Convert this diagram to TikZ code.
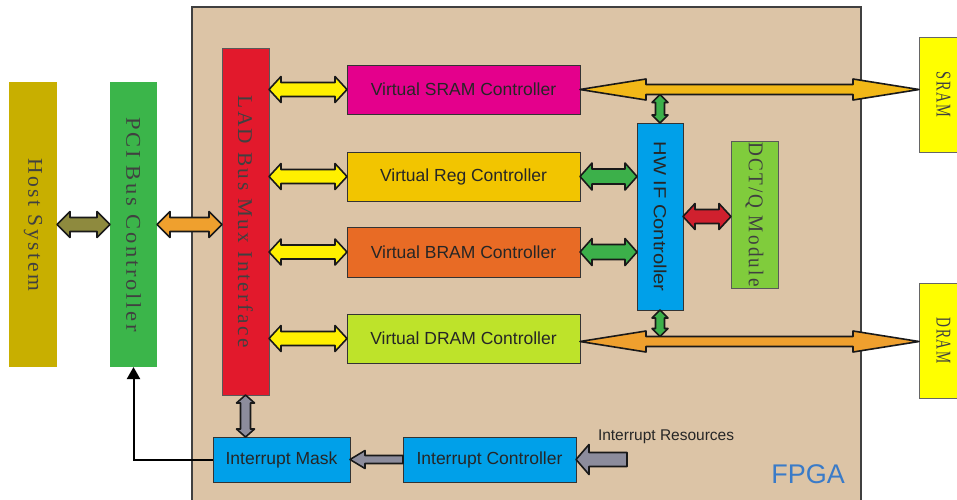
\documentclass[tikz,border=0pt]{standalone}
\usepackage{fontspec}
\usepackage{graphicx}
\usetikzlibrary{calc,arrows.meta}
\newfontfamily\sansf{Liberation Sans}
\newfontfamily\serifls[LetterSpace=12]{Liberation Serif}
\definecolor{fpgac}{HTML}{DCC4A6}
\definecolor{hostc}{HTML}{C8AF00}
\definecolor{pcic}{HTML}{3BB54A}
\definecolor{ladc}{HTML}{E2192C}
\definecolor{sramcc}{HTML}{E4008C}
\definecolor{regcc}{HTML}{F2C500}
\definecolor{bramcc}{HTML}{E86B25}
\definecolor{dramcc}{HTML}{BEE32A}
\definecolor{bluec}{HTML}{00A0E9}
\definecolor{dctc}{HTML}{80CC3C}
\definecolor{memc}{HTML}{FFFF00}
\definecolor{olivec}{HTML}{8E8A3E}
\definecolor{orangec}{HTML}{EFA02E}
\definecolor{yellowc}{HTML}{FFF000}
\definecolor{goldc}{HTML}{F2B817}
\definecolor{greenc}{HTML}{3CB04A}
\definecolor{redc}{HTML}{D0202E}
\definecolor{grayc}{HTML}{8C8C9C}
\definecolor{fpgat}{HTML}{3A7BC8}
\tikzset{
  blk/.style={inner sep=0pt, outer sep=0pt, anchor=center},
  ctl/.style={blk, draw=black!80, line width=0.9pt, font=\sansf\fontsize{17.5}{20}\selectfont, text=black!85},
  vlab/.style={blk, font=\serifls\fontsize{21}{24}\selectfont, text=black!75},
  barrow/.style={draw=black!90, line width=1.6pt, line join=round},
}
% vertical (top-to-bottom) text stretched to a given length
\newcommand{\vtext}[2]{\rotatebox{-90}{\resizebox{#1}{\height}{#2}}}
\newcommand{\dblH}[6]{%
  \draw[barrow, fill=#3] let \p1=(#1), \p2=(#2), \n1={sign(\x2-\x1)} in
    (\x1,\y1) -- (\x1+\n1*#6,\y1+#5) -- (\x1+\n1*#6,\y1+#4) -- (\x2-\n1*#6,\y1+#4) -- (\x2-\n1*#6,\y1+#5) -- (\x2,\y1)
    -- (\x2-\n1*#6,\y1-#5) -- (\x2-\n1*#6,\y1-#4) -- (\x1+\n1*#6,\y1-#4) -- (\x1+\n1*#6,\y1-#5) -- cycle;}
\newcommand{\dblV}[6]{%
  \draw[barrow, fill=#3] let \p1=(#1), \p2=(#2), \n1={sign(\y2-\y1)} in
    (\x1,\y1) -- (\x1+#5,\y1+\n1*#6) -- (\x1+#4,\y1+\n1*#6) -- (\x1+#4,\y2-\n1*#6) -- (\x1+#5,\y2-\n1*#6) -- (\x1,\y2)
    -- (\x1-#5,\y2-\n1*#6) -- (\x1-#4,\y2-\n1*#6) -- (\x1-#4,\y1+\n1*#6) -- (\x1-#5,\y1+\n1*#6) -- cycle;}
\newcommand{\sglH}[6]{%
  \draw[barrow, fill=#3] let \p1=(#1), \p2=(#2), \n1={sign(\x2-\x1)} in
    (\x1,\y1+#4) -- (\x2-\n1*#6,\y1+#4) -- (\x2-\n1*#6,\y1+#5) -- (\x2,\y1)
    -- (\x2-\n1*#6,\y1-#5) -- (\x2-\n1*#6,\y1-#4) -- (\x1,\y1-#4) -- cycle;}
\begin{document}
\begin{tikzpicture}[x=1pt,y=-1pt]
\useasboundingbox (0,0) rectangle (957,499);
\fill[white] (0,0) rectangle (957,499);
% FPGA container
\node[blk, anchor=north west, draw=black!75, line width=1.2pt, fill=fpgac, minimum width=669pt, minimum height=520pt] (fpga) at (192,7) {};
% outer blocks
\node[vlab, fill=hostc, minimum width=48pt, minimum height=285pt] (host) at (33,224.5) {\vtext{133pt}{Host System}};
\node[vlab, fill=pcic, minimum width=47pt, minimum height=285pt] (pci) at (133.5,224.5) {\vtext{215pt}{PCI Bus Controller}};
\node[vlab, fill=ladc, draw=black!65, line width=0.9pt, minimum width=47pt, minimum height=347pt] (lad) at (245.5,221.5) {\vtext{252pt}{LAD Bus Mux Interface}};
\node[vlab, fill=memc, draw=black!60, line width=0.9pt, minimum width=49pt, minimum height=115pt] (sram) at (943.5,94.5) {\vtext{46pt}{SRAM}};
\node[vlab, fill=memc, draw=black!60, line width=0.9pt, minimum width=49pt, minimum height=115pt] (dram) at (943.5,340.5) {\vtext{46pt}{DRAM}};
\node[vlab, fill=dctc, draw=black!65, line width=0.9pt, minimum width=47pt, minimum height=147pt] (dct) at (754.5,214.5) {\vtext{145pt}{DCT/Q Module}};
% controllers
\node[ctl, fill=sramcc, minimum width=233pt, minimum height=49pt] (sramc) at (463.5,89.5) {Virtual SRAM Controller};
\node[ctl, fill=regcc, minimum width=233pt, minimum height=49pt] (regc) at (463.5,176.5) {Virtual Reg Controller};
\node[ctl, fill=bramcc, minimum width=233pt, minimum height=50pt] (bramc) at (463.5,252) {Virtual BRAM Controller};
\node[ctl, fill=dramcc, minimum width=233pt, minimum height=49pt] (dramc) at (463.5,338.5) {Virtual DRAM Controller};
\node[ctl, fill=bluec, minimum width=46pt, minimum height=187pt] (hwif) at (660,216.5) {\vtext{150pt}{HW IF Controller}};
\node[ctl, fill=bluec, minimum width=137pt, minimum height=45pt] (mask) at (281.5,459.5) {Interrupt Mask};
\node[ctl, fill=bluec, minimum width=173pt, minimum height=45pt] (ictrl) at (489.5,459.5) {Interrupt Controller};
% texts
\node[blk, anchor=west, font=\sansf\fontsize{15.5}{18}\selectfont, text=black!85] (irestxt) at (598,437) {Interrupt Resources};
\node[blk, font=\sansf\fontsize{27}{30}\selectfont, text=fpgat] (fpgatxt) at (808,474) {FPGA};
% helper coordinates
\coordinate (dbus) at ($(dramc.east)+(0,3)$);
\coordinate (sbusb) at ($(hwif.north |- sramc.east)+(0,5)$);
\coordinate (dbust) at ($(hwif.south |- dbus)+(0,-5)$);
\coordinate (ires) at (627,459.5);
% arrows
\dblH{host.east}{pci.west}{olivec}{7}{13}{13}
\dblH{pci.east}{lad.west |- pci.east}{orangec}{7}{13}{13}
\dblH{lad.east |- sramc.west}{sramc.west}{yellowc}{7}{13}{12}
\dblH{lad.east |- regc.west}{regc.west}{yellowc}{7}{13}{12}
\dblH{lad.east |- bramc.west}{bramc.west}{yellowc}{7}{13}{12}
\dblH{lad.east |- dramc.west}{dramc.west}{yellowc}{7}{13}{12}
\dblH{regc.east}{hwif.west |- regc.east}{greenc}{7.5}{13.5}{12}
\dblH{bramc.east}{hwif.west |- bramc.east}{greenc}{7.5}{13.5}{12}
\dblH{hwif.east}{dct.west |- hwif.east}{redc}{7}{13}{12}
\dblV{hwif.north}{sbusb}{greenc}{4.5}{8}{8}
\dblV{hwif.south}{dbust}{greenc}{4.5}{8}{8}
\dblH{sramc.east}{sram.west |- sramc.east}{goldc}{5}{10.5}{66}
\dblH{dbus}{dram.west |- dbus}{orangec}{5}{10.5}{66}
\dblV{lad.south}{lad.south |- mask.north}{grayc}{5}{9}{8}
\sglH{ictrl.west}{mask.east}{grayc}{4}{9}{15}
\sglH{ires}{ictrl.east}{grayc}{7}{15}{13}
\draw[line width=2pt, -{Triangle[width=13pt,length=12pt]}] (mask.west) -- (mask.west -| pci.south) -- (pci.south);
\end{tikzpicture}
\end{document}
